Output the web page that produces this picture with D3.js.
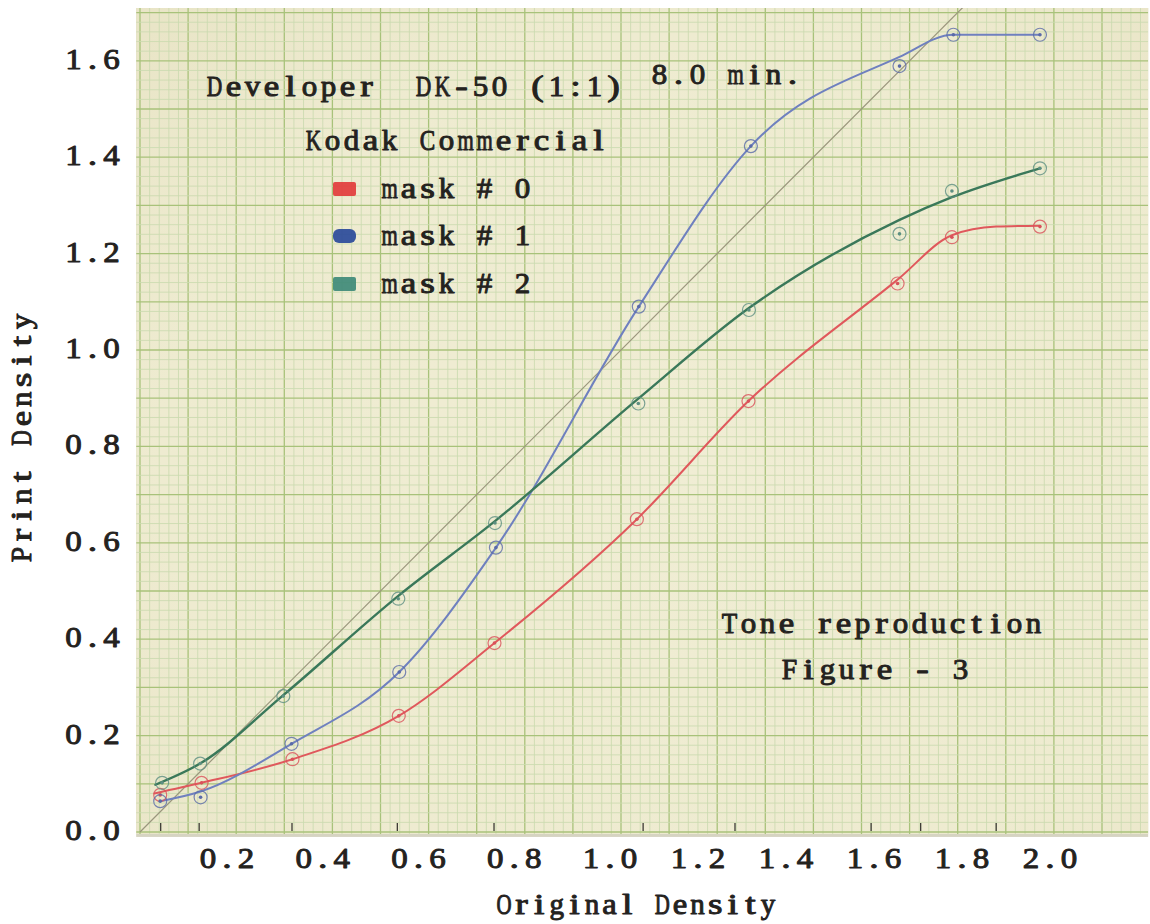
<!DOCTYPE html>
<html><head><meta charset="utf-8">
<script src="https://cdn.jsdelivr.net/npm/d3@7/dist/d3.min.js"></script>
<style>body{margin:0;background:#fff}</style>
</head><body>
<svg id="chart" width="1150" height="924"></svg>
<script>
// ---------- data ----------
const seriesNames = ["mask # 0", "mask # 1", "mask # 2"];
// plotted points
const mask0_x = [0.042, 0.128, 0.317, 0.538, 0.737, 1.033, 1.265, 1.575, 1.688, 1.871];
const mask0_y = [0.077, 0.102, 0.151, 0.241, 0.392, 0.649, 0.894, 1.138, 1.234, 1.256];
const mask1_x = [0.042, 0.126, 0.315, 0.539, 0.740, 1.037, 1.270, 1.579, 1.691, 1.871];
const mask1_y = [0.064, 0.072, 0.183, 0.332, 0.590, 1.090, 1.423, 1.589, 1.654, 1.654];
const mask2_x = [0.046, 0.125, 0.298, 0.537, 0.738, 1.036, 1.266, 1.579, 1.688, 1.871];
const mask2_y = [0.102, 0.142, 0.282, 0.484, 0.641, 0.889, 1.083, 1.241, 1.330, 1.377];
// hand-drawn curves (the pencil curves do not pass exactly through every point)
const mask0_curve_x = [0.030, 0.128, 0.317, 0.538, 0.737, 1.033, 1.265, 1.575, 1.688, 1.780, 1.871];
const mask0_curve_y = [0.080, 0.102, 0.151, 0.241, 0.392, 0.649, 0.894, 1.146, 1.238, 1.256, 1.258];
const mask1_curve_x = [0.042, 0.126, 0.315, 0.539, 0.740, 1.037, 1.270, 1.579, 1.691, 1.871];
const mask1_curve_y = [0.064, 0.084, 0.183, 0.332, 0.590, 1.090, 1.423, 1.608, 1.654, 1.654];
const mask2_curve_x = [0.032, 0.125, 0.298, 0.537, 0.738, 1.036, 1.266, 1.579, 1.688, 1.871];
const mask2_curve_y = [0.098, 0.142, 0.284, 0.490, 0.645, 0.899, 1.087, 1.270, 1.317, 1.377];
const stepMarks = [0.043, 0.123, 0.316, 0.535, 0.736, 1.046, 1.237, 1.520, 1.623, 1.780];
const xTickValues = [0.2, 0.4, 0.6, 0.8, 1.0, 1.2, 1.4, 1.6, 1.8, 2.0];
const xTickLabels = ["0.2", "0.4", "0.6", "0.8", "1.0", "1.2", "1.4", "1.6", "1.8", "2.0"];
const yTickValues = [0.0, 0.2, 0.4, 0.6, 0.8, 1.0, 1.2, 1.4, 1.6];
const yTickLabels = ["0.0", "0.2", "0.4", "0.6", "0.8", "1.0", "1.2", "1.4", "1.6"];
const titleLine = "Developer  DK-50 (1:1)";
const titleTime = "8.0 min.";
const filmLabel = "Kodak Commercial";
const noteLines = ["Tone reproduction", "Figure - 3"];
const xTitle = "Original Density";
const yTitle = "Print Density";

// ---------- styles ----------
const lineColors = ["#e0585c", "#6f80bf", "#3a785a"];
const swatchColors = ["#e23c3c", "#2a4a9a", "#3f8a78"];
const markColors = ["#d9515a", "#5a6aa8", "#5d8f82"];
const FONT = "'Liberation Serif', 'DejaVu Serif', serif";
const ink = "#24221e";

const svg = d3.select("#chart");
const x = d3.scaleLinear().domain([0, 2]).range([140, 1102]);
const y = d3.scaleLinear().domain([0, 1.6]).range([832, 60.8]);
const xTyped = d3.scaleLinear().domain([0.2, 1.0, 2.0]).range([227, 610, 1050]);

const X0 = -0.008, X1 = 2.096, Y0 = -0.004, Y1 = 1.7095;

// typewriter text: serif glyphs set in fixed-width cells, each glyph widened toward a common width
function typeText(parent, str, o) {
  const size = o.size || 29, adv = o.adv || 19, target = o.target || 15.5;
  const n = str.length;
  const anchor = o.anchor || "start";
  const start = anchor === "start" ? o.x : anchor === "middle" ? o.x - n * adv / 2 : o.x - n * adv;
  const chars = Array.from(str).map((c, i) => ({ c, cx: start + i * adv + adv / 2 })).filter(d => d.c !== " ");
  const g = parent.append("g");
  if (o.transform) g.attr("transform", o.transform);
  g.selectAll("text").data(chars).join("text")
    .attr("text-anchor", "middle")
    .attr("font-family", FONT).attr("font-size", size)
    .attr("fill", ink).attr("stroke", ink).attr("stroke-width", 0.95)
    .attr("stroke-linejoin", "round")
    .text(d => d.c)
    .each(function (d) {
      const w = this.getComputedTextLength() || target;
      const sx = Math.max(0.72, Math.min(1.3, target / w));
      d3.select(this).attr("transform", `translate(${d.cx},${o.y}) scale(${sx},1)`);
    });
  return g;
}

// paper shadow + paper
svg.append("rect").attr("x", x(X0)).attr("y", y(Y1))
  .attr("width", x(X1) - x(X0)).attr("height", y(Y0) - y(Y1) + 3)
  .attr("fill", "#d6d4c2");
const defs = svg.append("defs");
const grad = defs.append("radialGradient").attr("id", "paperG")
  .attr("cx", "55%").attr("cy", "55%").attr("r", "75%");
grad.append("stop").attr("offset", "0%").attr("stop-color", "#f0edd4");
grad.append("stop").attr("offset", "70%").attr("stop-color", "#eeebd0");
grad.append("stop").attr("offset", "100%").attr("stop-color", "#e9e5c7");
svg.append("rect").attr("x", x(X0)).attr("y", y(Y1))
  .attr("width", x(X1) - x(X0)).attr("height", y(Y0) - y(Y1))
  .attr("fill", "url(#paperG)");

defs.append("clipPath").attr("id", "paperClip").append("rect")
  .attr("x", x(X0)).attr("y", y(Y1))
  .attr("width", x(X1) - x(X0)).attr("height", y(Y0) - y(Y1));

const grid = svg.append("g").attr("clip-path", "url(#paperClip)");
const minorX = d3.range(0, 106).map(i => i * 0.02);
const minorY = d3.range(0, 87).map(i => i * 0.02);
grid.selectAll("line.vx").data(minorX).join("line")
  .attr("x1", d => x(d)).attr("x2", d => x(d))
  .attr("y1", y(Y1)).attr("y2", y(Y0))
  .attr("stroke", (d, i) => i % 5 === 0 ? "#a8c27a" : "#cbdab0")
  .attr("stroke-width", (d, i) => i % 5 === 0 ? 1.3 : 0.85);
grid.selectAll("line.hy").data(minorY).join("line")
  .attr("y1", d => y(d)).attr("y2", d => y(d))
  .attr("x1", x(X0)).attr("x2", x(X1))
  .attr("stroke", (d, i) => i % 5 === 0 ? "#a8c27a" : "#cbdab0")
  .attr("stroke-width", (d, i) => i % 5 === 0 ? 1.3 : 0.85);

// diagonal reference line (print density = original density)
grid.append("line")
  .attr("x1", x(0)).attr("y1", y(0)).attr("x2", x(1.75)).attr("y2", y(1.75))
  .attr("stroke", "#9a967c").attr("stroke-width", 1.2);

// step marks along the bottom
grid.selectAll("line.step").data(stepMarks).join("line")
  .attr("x1", d => x(d)).attr("x2", d => x(d))
  .attr("y1", y(0) - 9).attr("y2", y(0) - 1)
  .attr("stroke", "#3c3a34").attr("stroke-width", 1.3);

// series
const series = [
  { xs: mask0_x, ys: mask0_y, cx: mask0_curve_x, cy: mask0_curve_y },
  { xs: mask1_x, ys: mask1_y, cx: mask1_curve_x, cy: mask1_curve_y },
  { xs: mask2_x, ys: mask2_y, cx: mask2_curve_x, cy: mask2_curve_y }
].map((s, k) => ({
  name: seriesNames[k],
  pts: s.xs.map((v, i) => [v, s.ys[i]]),
  curve: s.cx.map((v, i) => [v, s.cy[i]])
}));

const line = d3.line().x(p => x(p[0])).y(p => y(p[1])).curve(d3.curveMonotoneX);
const plot = svg.append("g").attr("clip-path", "url(#paperClip)");
plot.selectAll("path.series").data(series).join("path")
  .attr("d", d => line(d.curve))
  .attr("fill", "none")
  .attr("stroke", (d, i) => lineColors[i])
  .attr("stroke-width", (d, i) => i === 2 ? 2.4 : 2)
  .attr("stroke-linecap", "round");

series.forEach((s, i) => {
  const g = plot.append("g");
  g.selectAll("circle.ring").data(s.pts).join("circle")
    .attr("cx", d => x(d[0])).attr("cy", d => y(d[1])).attr("r", 6.5)
    .attr("fill", "none").attr("stroke", markColors[i]).attr("stroke-width", 1.2).attr("opacity", 0.8);
  g.selectAll("circle.dot").data(s.pts).join("circle")
    .attr("cx", d => x(d[0])).attr("cy", d => y(d[1])).attr("r", 1.8)
    .attr("fill", markColors[i]);
});

// ---------- text ----------
yTickValues.forEach((v, i) => typeText(svg, yTickLabels[i], { x: 121, y: y(v) + 8, anchor: "end", target: 16.5 }));
xTickValues.forEach((v, i) => typeText(svg, xTickLabels[i], { x: xTyped(v), y: 868, anchor: "middle", target: 16.5 }));
typeText(svg, xTitle, { x: 636, y: 914, anchor: "middle", adv: 17.6, target: 14.5 });
typeText(svg, yTitle, { x: 0, y: 0, anchor: "middle", adv: 19.4, transform: "translate(31,438) rotate(-90)" });

typeText(svg, titleLine, { x: 205, y: 96 });
typeText(svg, titleTime, { x: 650, y: 84 });
typeText(svg, filmLabel, { x: 304, y: 150 });

const legY = [189, 236, 284];
seriesNames.forEach((n, i) => {
  svg.append("rect").attr("x", 333).attr("y", legY[i] - 7).attr("width", 23).attr("height", 14)
    .attr("rx", i === 1 ? 6 : 2).attr("fill", swatchColors[i]).attr("opacity", 0.92);
  typeText(svg, n, { x: 380, y: legY[i] + 9 });
});

typeText(svg, noteLines[0], { x: 720, y: 633 });
typeText(svg, noteLines[1], { x: 780, y: 679 });
</script>
</body></html>
